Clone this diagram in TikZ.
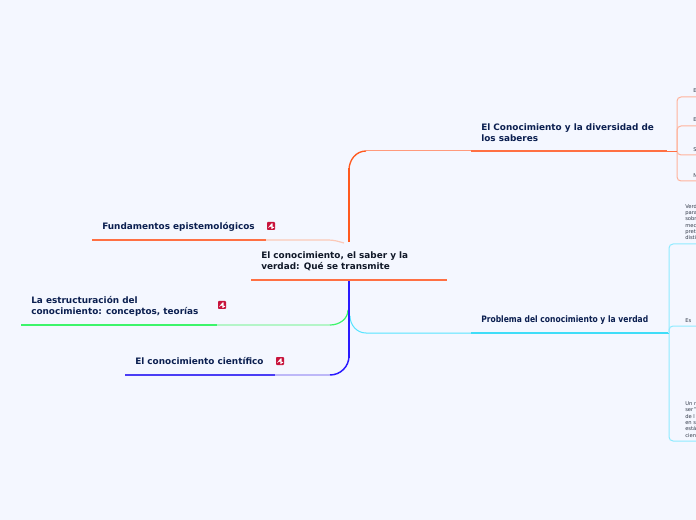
\documentclass[tikz,border=0pt]{standalone}
\usepackage{fontspec}
\usepackage{graphicx}
\setmainfont{DejaVu Sans}
\definecolor{bgc}{HTML}{F4F7FF}
\definecolor{org}{HTML}{FF7043}
\definecolor{spo}{HTML}{FF5A1F}
\definecolor{pale}{HTML}{FBC9B8}
\definecolor{lineorg}{HTML}{FF9A7C}
\definecolor{grn}{HTML}{3DF56B}
\definecolor{pgrn}{HTML}{B4F5C8}
\definecolor{blu}{HTML}{4A3DF5}
\definecolor{spb}{HTML}{2A1AFF}
\definecolor{pblu}{HTML}{BDB8F8}
\definecolor{cyn}{HTML}{3FDDF8}
\definecolor{linecyn}{HTML}{55E4FF}
\definecolor{pcyn}{HTML}{8FEBFF}
\definecolor{sal}{HTML}{FFB39C}
\definecolor{navy}{HTML}{0B1F50}
\definecolor{ink}{HTML}{101828}
\definecolor{tinytext}{HTML}{333B4A}
\definecolor{icn}{HTML}{C8143C}
\tikzset{
 x=0.75pt,y=-0.75pt,
 branch/.style={font=\bfseries\fontsize{6.66}{8.4}\selectfont,text=navy,anchor=west,align=left,inner sep=0pt},
 titletext/.style={branch,text=ink},
 small/.style={font=\fontsize{3.9}{4.75}\selectfont,text=tinytext,anchor=west,align=left,inner sep=0pt},
 thick line/.style={line width=1.3pt},
 soft/.style={line width=0.9pt},
 bracket/.style={line width=0.75pt,rounded corners=3pt},
 icon/.style={fill=icn,draw=none,minimum size=6pt,inner sep=0pt,rounded corners=0.6pt},
}
\newcommand{\iconmark}[1]{\fill[white,shift={(#1)}] (-3,1.8) -- (0.6,-2.6) -- (1.6,-2.6) -- (1.6,0.8) -- (3.2,0.8) -- (3.2,1.8) -- (1.6,1.8) -- (1.6,3) -- (0.4,3) -- (0.4,0.4) -- (-1.2,0.9) -- cycle;}
\begin{document}
\begin{tikzpicture}
\useasboundingbox (0,0) rectangle (696,520);
\fill[bgc] (0,0) rectangle (696,520);
\clip (0,0) rectangle (696,520);
% anchors
\coordinate (oA) at (471,151);
\coordinate (oB) at (667,151);
\coordinate (oC) at (677,151);
\coordinate (cA) at (471,333);
\coordinate (cB) at (668,333);
\coordinate (cC) at (669,333);
\coordinate (fA) at (92,240);
\coordinate (fB) at (266,240);
\coordinate (gA) at (21,325);
\coordinate (gB) at (217,325);
\coordinate (bA) at (125,375);
\coordinate (bB) at (275,375);
\coordinate (tA) at (251,280);
\coordinate (tB) at (447,280);
\coordinate (e1) at (697,97);
\coordinate (e2) at (697,126);
\coordinate (e3) at (697,155);
\coordinate (e4) at (697,181);
\coordinate (v1) at (697,244);
\coordinate (v2) at (697,326);
\coordinate (v3) at (697,441);
% right brackets
\draw[sal,bracket] (oC) |- (e1);
\draw[sal,bracket] (oC) |- (e2);
\draw[sal,bracket] (oC) |- (e3);
\draw[sal,bracket] (oC) |- (e4);
\draw[pcyn,bracket] (cC) |- (v1);
\draw[pcyn,bracket] (cC) |- (v2);
\draw[pcyn,bracket] (cC) |- (v3);
\draw[org,line width=0.7pt] (oB) -- (oC);
\draw[cyn,line width=0.7pt] (cB) -- (cC);
% branch curves
\draw[lineorg,line width=0.75pt] (oA) -- (366,151);
\draw[spo,line width=1pt] (366,151) to[out=180,in=90] (349,170);
\draw[linecyn,line width=0.75pt] (cA) -- (366,333) to[out=180,in=-90] (350,316);
\draw[pale,soft] (fB) -- (328,240) to[out=0,in=165] (344,243);
\draw[pgrn,soft] (gB) -- (330,325);
\draw[pblu,soft] (bB) -- (330,375);
\draw[grn,line width=0.9pt] (330,325) to[out=0,in=-90] (348,310);
\draw[spb,line width=1.1pt] (330,375) to[out=0,in=-90] (349,356);
% spine
\draw[spo,line width=1.6pt] (349,168) -- (349,242);
\draw[spb,line width=1.6pt] (349,280) -- (349,358);
% thick underlines
\draw[org,thick line] (oA) -- (oB);
\draw[cyn,thick line] (cA) -- (cB);
\draw[org,thick line] (fA) -- (fB);
\draw[grn,thick line] (gA) -- (gB);
\draw[blu,thick line] (bA) -- (bB);
\draw[org,thick line] (tA) -- (tB);
% texts
\node[titletext] (title) at (261,261) {El conocimiento, el saber y la\\verdad: Qué se transmite};
\node[branch] (n1) at (481,132.5) {El Conocimiento y la diversidad de\\los saberes};
\node[branch] (n2) at (481,320.5) {\scalebox{0.855}[1]{Problema del conocimiento y la verdad}};
\node[branch] (n3) at (102,226.5) {Fundamentos epistemológicos};
\node[branch] (n4) at (31,306) {La estructuración del\\conocimiento: conceptos, teorías};
\node[branch] (n5) at (135,361) {El conocimiento científico};
% icons
\node[icon] (i3) at (271,226) {}; \iconmark{i3}
\node[icon] (i4) at (222,305) {}; \iconmark{i4}
\node[icon] (i5) at (280,361) {}; \iconmark{i5}
% small clipped texts
\node[small] (s1) at (693,91) {E};
\node[small] (s2) at (693,120) {E};
\node[small] (s3) at (693,150) {S};
\node[small] (s4) at (693,176) {N};
\node[small] (s5) at (685,222) {Verd\\para\\sobr\\mec\\pret\\disti};
\node[small] (s6) at (685,321) {Es};
\node[small] (s7) at (685,419.5) {Un r\\ser"\\de l\\en s\\está\\cien};
\end{tikzpicture}
\end{document}
